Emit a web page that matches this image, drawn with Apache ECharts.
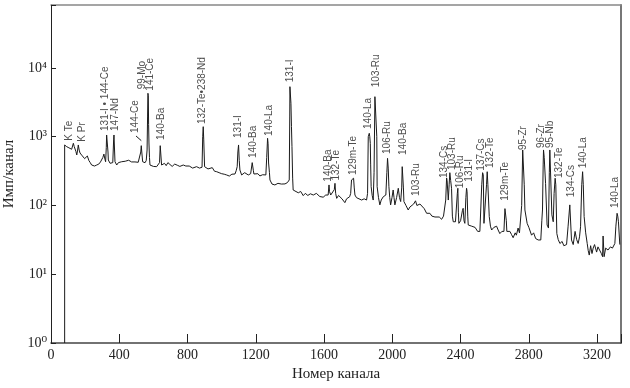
<!DOCTYPE html>
<html><head><meta charset="utf-8">
<style>html,body{margin:0;padding:0;background:#fff}#c{width:630px;height:388px}</style>
<script src="https://cdn.jsdelivr.net/npm/echarts@6/dist/echarts.min.js"></script>
</head><body><div id="c"></div>
<script>
const spectrum=[[80,1],[80,759],[92,717],[105,690],[121,657],[128,700],[131,803],[136,720],[141,686],[146,610],[151,543],[156,640],[160,759],[165,640],[170,580],[180,540],[189,507],[197,480],[205,470],[213,525],[222,450],[230,420],[238,388],[247,400],[255,375],[268,388],[280,400],[290,430],[297,459],[304,500],[310,560],[316,470],[320,433],[324,700],[326,1060],[329,1040],[332,1060],[334,600],[336,459],[341,440],[346,411],[351,430],[356,388],[362,420],[367,900],[369,1060],[372,1000],[375,433],[380,410],[385,388],[395,420],[405,400],[414,433],[425,420],[435,440],[445,425],[455,455],[463,449],[472,430],[482,455],[492,430],[503,420],[511,425],[520,440],[526,600],[529,741],[532,600],[537,433],[544,425],[551,419],[558,450],[563,642],[566,2000],[568,4286],[570,4000],[572,1500],[574,811],[577,500],[580,388],[590,400],[600,370],[610,360],[619,367],[628,385],[636,420],[640,741],[643,720],[648,388],[656,370],[665,410],[675,380],[685,420],[697,395],[710,370],[725,400],[740,385],[755,370],[775,388],[790,375],[810,375],[830,350],[853,367],[870,350],[885,360],[889,1000],[892,1400],[895,900],[900,367],[910,350],[920,340],[931,337],[945,355],[958,315],[971,310],[985,300],[1000,290],[1015,285],[1029,278],[1045,268],[1060,285],[1078,287],[1085,320],[1091,367],[1095,600],[1099,759],[1103,450],[1107,328],[1117,278],[1125,285],[1135,300],[1156,278],[1170,290],[1176,300],[1179,420],[1182,415],[1186,320],[1189,287],[1200,270],[1212,290],[1224,269],[1240,280],[1259,278],[1264,500],[1269,949],[1272,800],[1275,415],[1280,300],[1283,235],[1295,205],[1312,199],[1330,210],[1350,205],[1371,206],[1385,215],[1396,235],[1399,2000],[1400,5346],[1402,5000],[1406,3066],[1409,1400],[1412,717],[1416,250],[1419,168],[1430,158],[1449,153],[1463,160],[1478,139],[1490,150],[1505,140],[1520,148],[1537,142],[1555,150],[1575,135],[1595,132],[1610,142],[1624,142],[1629,199],[1632,160],[1639,142],[1650,150],[1660,170],[1664,210],[1668,150],[1674,127],[1685,140],[1693,134],[1705,125],[1722,110],[1732,125],[1742,120],[1750,134],[1756,150],[1761,235],[1765,249],[1773,249],[1777,180],[1781,142],[1790,130],[1800,124],[1820,120],[1835,125],[1849,120],[1855,150],[1859,1000],[1865,1122],[1868,1000],[1871,800],[1873,400],[1876,188],[1882,140],[1888,120],[1893,300],[1898,3825],[1906,3825],[1909,1000],[1911,188],[1919,130],[1927,102],[1935,120],[1947,134],[1955,142],[1962,142],[1968,300],[1972,485],[1976,350],[1980,188],[1985,130],[1990,102],[1998,130],[2005,168],[2010,130],[2015,102],[2025,130],[2035,178],[2042,130],[2049,114],[2055,180],[2058,367],[2062,367],[2065,180],[2068,114],[2080,100],[2093,86],[2103,95],[2113,96],[2125,105],[2136,117],[2144,100],[2152,96],[2162,105],[2172,102],[2187,90],[2201,77],[2220,77],[2232,70],[2240,73],[2250,68],[2259,65],[2275,68],[2289,63],[2300,70],[2308,73],[2313,120],[2318,251],[2321,230],[2328,120],[2333,200],[2337,300],[2342,230],[2347,178],[2352,70],[2357,58],[2370,58],[2377,60],[2381,150],[2384,178],[2387,80],[2390,55],[2400,60],[2406,62],[2411,85],[2415,91],[2420,60],[2425,55],[2431,130],[2435,178],[2438,160],[2442,70],[2445,52],[2455,55],[2465,50],[2474,47],[2485,48],[2500,42],[2513,42],[2519,42],[2524,200],[2529,300],[2533,280],[2537,55],[2547,55],[2552,200],[2556,310],[2560,200],[2568,69],[2575,50],[2582,44],[2595,48],[2611,50],[2620,44],[2630,39],[2642,42],[2654,42],[2660,90],[2664,96],[2668,60],[2671,42],[2680,42],[2689,42],[2698,38],[2708,34],[2720,40],[2727,37],[2737,47],[2745,40],[2751,42],[2758,100],[2764,642],[2769,642],[2773,200],[2777,86],[2790,55],[2800,48],[2816,37],[2828,40],[2840,33],[2855,31.5],[2870,31.5],[2876,60],[2880,86],[2884,400],[2886,642],[2890,500],[2898,210],[2907,52],[2915,47],[2920,300],[2923,642],[2928,642],[2935,73],[2943,58],[2948,150],[2954,249],[2958,200],[2964,39],[2972,32],[2982,28],[2995,30],[3005,26],[3021,27],[3030,50],[3040,102],[3045,100],[3050,31.5],[3060,27],[3071,42],[3080,32],[3089,28],[3097,35],[3103,49],[3110,200],[3115,310],[3119,200],[3124,69],[3133,40],[3142,28],[3148,22],[3154,19],[3162,26],[3170,20],[3177,24],[3185,27],[3197,21],[3205,25],[3216,25],[3225,20],[3232,18],[3235,36],[3241,18],[3250,24],[3264,22.5],[3278,25],[3290,24],[3304,28],[3310,50],[3317,77],[3321,70],[3325,58],[3333,27]];
const labelTexts=['K Te','K Pr','131-I • 144-Ce','147-Nd','144-Ce','99-Mo','141-Ce','140-Ba','132-Te•238-Nd','131-I','140-Ba','140-La','131-I','140-Ba','132-Te','129m-Te','140-La','103-Ru','106-Ru','140-Ba','103-Ru','134-Cs','103-Ru','106-Ru','131-I','137-Cs','132-Te','129m-Te','95-Zr','96-Zr','95-Nb','132-Te','134-Cs','140-La','140-La'];
const labelChannels=[107,186,316,379,492,535,584,648,889,1100,1185,1277,1400,1624,1674,1771,1859,1904,1972,2064,2138,2302,2349,2396,2450,2523,2576,2660,2767,2875,2927,2976,3050,3118,3308];
const labelCounts=[877,847,1212,1212,1134,4898,4677,897,1531,959,491,1026,6194,222,230,278,1296,5248,561,543,137,251,328,178,222,321,351,117,642,686,686,251,132,347,92];
const leaderChannels=[498,529];
const leaderCounts=[1026,877];
const xTicks=[0,400,800,1200,1600,2000,2400,2800,3200];
const yTicks=[1,10,100,1000,10000];
const yTickLabels=['10⁰','10¹','10²','10³','10⁴'];
const serif='"Liberation Serif","DejaVu Serif",serif';
const chart=echarts.init(document.getElementById('c'),null,{renderer:'canvas'});
chart.setOption({
 animation:false,backgroundColor:'#fff',
 grid:{left:51,right:9,top:5,bottom:45,show:false,outerBoundsMode:'none'},
 xAxis:[{type:'value',min:0,max:3340,interval:400,position:'bottom',name:'Номер канала',nameLocation:'middle',nameGap:23,
   nameTextStyle:{fontFamily:serif,fontSize:15,color:'#222',fontWeight:'normal'},
   splitLine:{show:false},
   axisLine:{show:true,onZero:false,lineStyle:{color:'#444',width:1.5}},
   axisTick:{show:true,inside:true,length:9,lineStyle:{color:'#222',width:1}},
   axisLabel:{customValues:xTicks,margin:5,fontFamily:serif,fontSize:14,color:'#222',formatter:v=>String(v)}},
  {type:'value',min:0,max:3340,position:'top',splitLine:{show:false},axisLine:{show:true,onZero:false,lineStyle:{color:'#888',width:1.5}},axisTick:{show:false},axisLabel:{show:false}}],
 yAxis:[{type:'log',logBase:10,min:1,max:82400,position:'left',name:'Имп/канал',nameLocation:'middle',nameGap:27,
   nameTextStyle:{fontFamily:serif,fontSize:15,color:'#222',fontWeight:'normal'},
   splitLine:{show:false},minorTick:{show:false},
   axisLine:{show:true,onZero:false,lineStyle:{color:'#222',width:1}},
   axisTick:{show:true,inside:true,length:5,lineStyle:{color:'#222',width:1}},
   axisLabel:{customValues:yTicks,margin:4,fontFamily:serif,fontSize:14,color:'#222',formatter:v=>yTickLabels[Math.round(Math.log10(v))]}},
  {type:'value',min:0,max:1,position:'right',splitLine:{show:false},axisLine:{show:true,onZero:false,lineStyle:{color:'#777',width:2}},axisTick:{show:false},axisLabel:{show:false}}],
 series:[
  {type:'line',name:'spectrum',xAxisIndex:0,yAxisIndex:0,symbol:'none',silent:true,lineStyle:{color:'#1a1a1a',width:1},
   data:spectrum},
  {type:'line',name:'leader',xAxisIndex:0,yAxisIndex:0,symbol:'none',silent:true,lineStyle:{color:'#1a1a1a',width:1},
   data:leaderChannels.map((c,i)=>[c,leaderCounts[i]])},
  {type:'scatter',name:'peaks',xAxisIndex:0,yAxisIndex:0,symbolSize:0,silent:true,
   data:labelChannels.map((c,i)=>({value:[c,labelCounts[i]],name:labelTexts[i]})),
   label:{show:true,position:'inside',rotate:90,align:'left',verticalAlign:'middle',formatter:p=>p.name,
     fontFamily:'"Liberation Sans",Arial,sans-serif',fontSize:10,color:'#222'},
   labelLayout:{hideOverlap:false}}
 ]
});
</script></body></html>
